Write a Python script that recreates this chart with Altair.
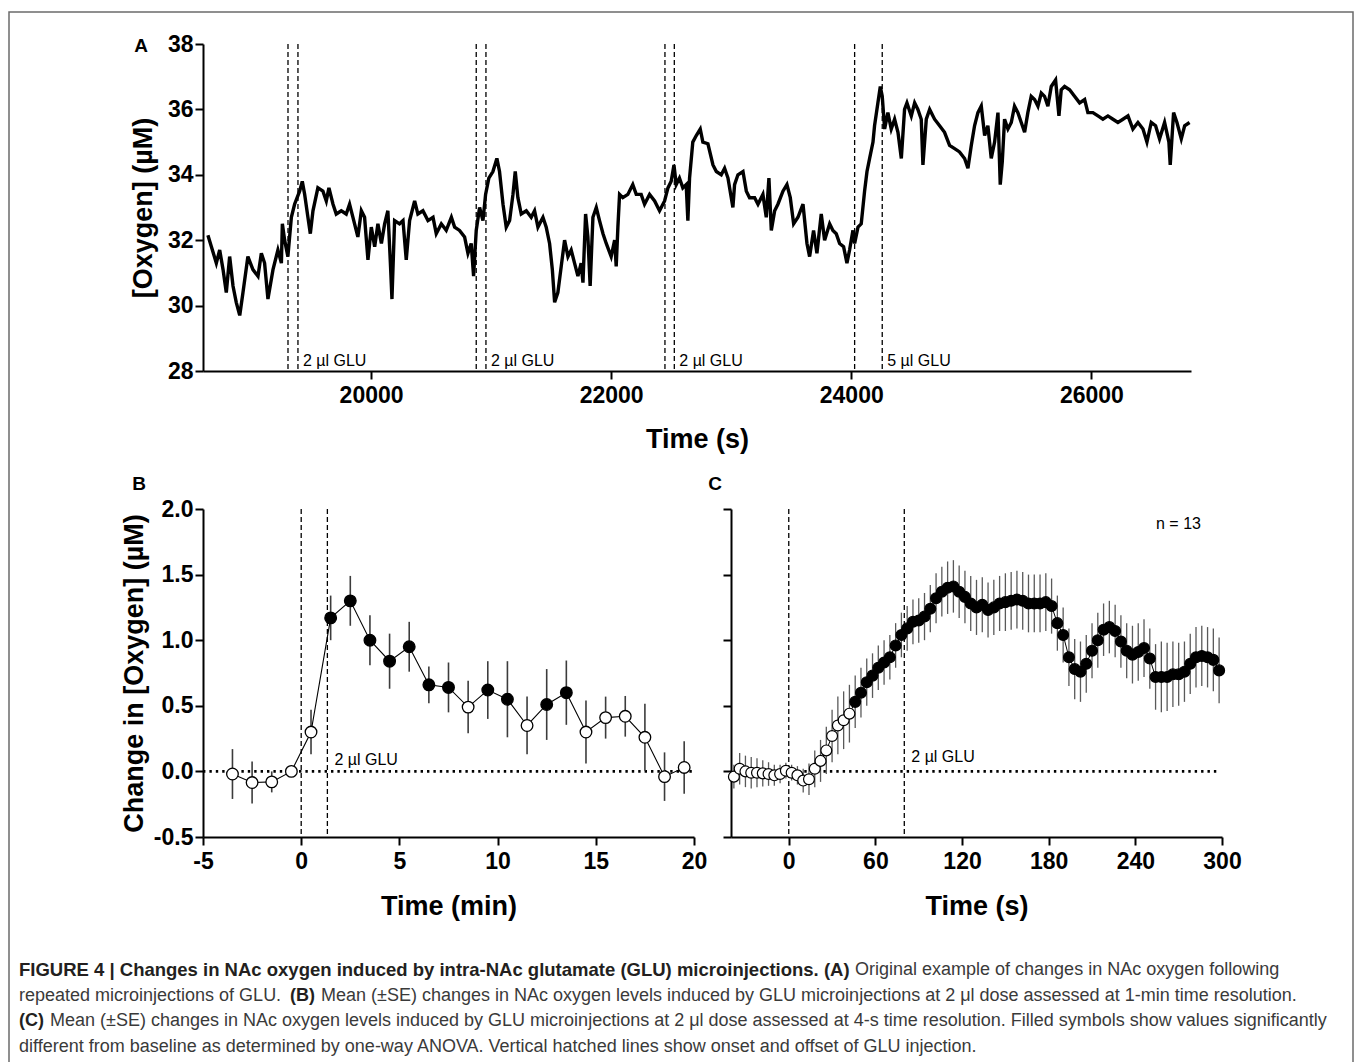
import altair as alt
import pandas as pd

FONT = "Liberation Sans"

# ---------------- Panel A: raw oxygen trace ----------------
a_time = [18641, 18670, 18711, 18739, 18767, 18794, 18822, 18850, 18877, 18906, 18933, 18974, 19016, 19058, 19086,
          19113, 19141, 19183, 19224, 19253, 19261, 19280, 19307, 19336, 19363, 19405, 19427, 19447, 19474, 19494,
          19516, 19557, 19599, 19627, 19649, 19683, 19710, 19752, 19793, 19821, 19849, 19890, 19919, 19946, 19974,
          20002, 20030, 20057, 20086, 20113, 20140, 20161, 20174, 20196, 20237, 20266, 20293, 20321, 20363, 20390,
          20432, 20474, 20516, 20543, 20585, 20626, 20669, 20696, 20737, 20779, 20807, 20834, 20854, 20876, 20904,
          20932, 20954, 20981, 21015, 21048, 21070, 21099, 21126, 21154, 21182, 21201, 21223, 21251, 21293, 21334,
          21362, 21390, 21432, 21459, 21487, 21510, 21529, 21556, 21584, 21612, 21640, 21667, 21695, 21723, 21750,
          21765, 21787, 21806, 21825, 21848, 21876, 21903, 21932, 21959, 22000, 22029, 22042, 22056, 22070, 22097,
          22139, 22180, 22209, 22250, 22278, 22320, 22362, 22403, 22445, 22473, 22500, 22523, 22542, 22569, 22597,
          22625, 22639, 22653, 22680, 22709, 22742, 22764,
          22806, 22848, 22876, 22917, 22945, 22973, 23014, 23028, 23056, 23098, 23126, 23153, 23195, 23223, 23264,
          23292, 23314, 23334, 23362, 23389, 23431, 23464, 23492, 23520, 23556, 23598, 23631, 23653, 23686, 23714,
          23750, 23778, 23820, 23847, 23875, 23903, 23936, 23964, 23986, 24014, 24028, 24056, 24083, 24111, 24131,
          24153, 24181, 24194, 24222, 24242, 24258, 24278, 24305, 24333, 24361, 24389, 24417, 24444, 24464, 24500,
          24528, 24555, 24583, 24597, 24625, 24653, 24694, 24736, 24777, 24819, 24861, 24902, 24944, 24972, 25000,
          25027, 25055, 25083, 25111, 25138, 25166, 25194, 25222, 25241, 25258, 25277, 25305, 25333, 25360, 25388,
          25416, 25444, 25471, 25499, 25527, 25555, 25583, 25610, 25638, 25666, 25702, 25730, 25749, 25777, 25819,
          25860, 25902, 25944, 25971, 26013, 26055, 26096, 26138, 26180, 26221, 26263, 26305, 26346, 26388, 26430,
          26463, 26499, 26535, 26568, 26610, 26646, 26657, 26685, 26713, 26749, 26777, 26818]
a_oxygen = [32.15, 31.8, 31.3, 31.7, 31.1, 30.4, 31.5, 30.6, 30.1, 29.7, 30.4, 31.5, 31.1, 30.9, 31.6,
            31.3, 30.2, 31.1, 31.7, 31.3, 32.5, 32.0, 31.5, 32.7, 33.1, 33.5, 33.8, 33.4, 32.7, 32.2,
            32.9, 33.6, 33.5, 33.2, 33.6, 33.1, 32.8, 32.9, 32.8, 33.1, 32.7, 32.1, 32.9, 32.7, 31.4,
            32.4, 31.8, 32.5, 31.9, 32.5, 32.9, 31.3, 30.2, 32.6, 32.5, 32.6, 31.4, 32.6, 33.2, 32.8,
            32.9, 32.6, 32.7, 32.2, 32.5, 32.3, 32.7, 32.4, 32.3, 32.1, 31.6, 31.9, 30.9, 32.3, 33.0,
            32.6, 33.4, 33.9, 34.1, 34.5, 34.1, 33.1, 32.4, 32.6, 33.4, 34.1, 33.3, 32.8, 32.9, 32.7,
            32.9, 32.4, 32.7, 32.4, 31.9, 31.1, 30.1, 30.4, 31.2, 32.0, 31.5, 31.7, 31.3, 30.9, 31.3,
            30.7, 32.8, 32.1, 30.6, 32.7, 33.0, 32.6, 32.2, 31.9, 31.5, 32.0, 31.2, 32.4, 33.4, 33.3,
            33.4, 33.7, 33.4, 33.4, 33.1, 33.4, 33.2, 32.9, 33.2, 33.6, 33.8, 34.3, 33.7, 33.9, 33.6,
            33.7, 32.6, 33.9, 35.0, 35.2, 35.4, 35.0,
            34.95, 34.3, 34.1, 34.0, 34.2, 33.9, 33.0, 33.7, 34.0, 34.1, 33.5, 33.3, 33.3, 33.1, 33.4,
            32.7, 33.9, 32.3, 32.9, 33.1, 33.5, 33.7, 33.3, 32.5, 32.7, 33.1, 31.9, 31.5, 32.3, 31.6,
            32.8, 32.0, 32.5, 32.3, 32.2, 31.9, 31.8, 31.3, 31.7, 32.3, 31.9, 32.4, 32.5, 33.5, 34.1,
            34.5, 35.0, 35.5, 36.2, 36.7, 36.4, 35.4, 35.9, 35.4, 35.7, 35.3, 34.5, 36.0, 36.2, 35.8,
            36.2, 36.0, 35.7, 34.3, 35.7, 36.0, 35.7, 35.5, 35.3, 34.9, 34.8, 34.7, 34.5, 34.2, 34.9,
            35.5, 35.9, 36.1, 35.2, 35.5, 34.5, 35.0, 35.9, 33.7, 34.4, 35.7, 35.4, 35.6, 36.1, 35.9,
            35.6, 35.3, 35.9, 36.4, 36.3, 36.1, 36.5, 36.4, 36.1, 36.7, 36.9, 35.8, 36.6, 36.7, 36.6,
            36.4, 36.2, 36.3, 35.9, 35.9, 35.8, 35.7, 35.8, 35.7, 35.6, 35.7, 35.8, 35.4, 35.6, 35.4,
            35.0, 35.6, 35.5, 35.1, 35.6, 35.0, 34.3, 35.9, 35.6, 35.1, 35.5, 35.6]
a_injection_lines = [19308, 19391, 20876, 20957, 22448, 22526, 24028, 24258]
a_label_time = [19391, 20957, 22526, 24258]
a_label_text = ["2 µl GLU", "2 µl GLU", "2 µl GLU", "5 µl GLU"]

# ---------------- Panel B: 1-min resolution ----------------
b_time = [-3.5, -2.5, -1.5, -0.5, 0.5, 1.5, 2.5, 3.5, 4.5, 5.5, 6.5, 7.5,
          8.5, 9.5, 10.5, 11.5, 12.5, 13.5, 14.5, 15.5, 16.5, 17.5, 18.5, 19.5]
b_mean = [-0.02, -0.085, -0.08, 0.0, 0.30, 1.17, 1.30, 1.00, 0.84, 0.95, 0.66, 0.64,
          0.49, 0.62, 0.55, 0.35, 0.51, 0.60, 0.30, 0.41, 0.42, 0.26, -0.04, 0.03]
b_se = [0.19, 0.16, 0.08, 0.03, 0.17, 0.17, 0.19, 0.19, 0.21, 0.19, 0.14, 0.19,
        0.20, 0.22, 0.29, 0.22, 0.27, 0.245, 0.24, 0.16, 0.155, 0.255, 0.185, 0.20]
b_filled = [False, False, False, False, False, True, True, True, True, True, True, True,
            False, True, True, False, True, True, False, False, False, False, False, False]
b_lines = [0, 1.333]

# ---------------- Panel C: 4-s resolution ----------------
c_time = [-38, -34, -30, -26, -22, -18, -14, -10, -6, -2,
          2, 6, 10, 14,
          18, 22, 26, 30, 34, 38, 42,
          46, 50, 54, 58, 62, 66, 70, 74, 78,
          82, 86, 90, 94, 98, 102, 106, 110,
          114, 118, 122, 126, 130, 134, 138, 142, 146,
          150, 154, 158, 162, 166, 170, 174, 178, 182,
          186, 190, 194, 198, 202, 206, 210,
          214, 218, 222, 226, 230, 234, 238, 242, 246,
          250, 254, 258, 262, 266, 270, 274, 278, 282, 286, 290, 294, 298]
c_mean = [-0.04, 0.02, 0.0, -0.01, -0.01, -0.015, -0.02, -0.03, -0.02, 0.005,
          -0.01, -0.03, -0.07, -0.06,
          0.02, 0.08, 0.16, 0.27, 0.35, 0.39, 0.44,
          0.53, 0.60, 0.68, 0.73, 0.79, 0.83, 0.87, 0.96, 1.04,
          1.09, 1.14, 1.15, 1.18, 1.24, 1.32, 1.37, 1.40,
          1.41, 1.37, 1.33, 1.28, 1.25, 1.27, 1.23, 1.25, 1.28,
          1.29, 1.30, 1.31, 1.30, 1.28, 1.28, 1.28, 1.29, 1.26,
          1.13, 1.04, 0.87, 0.78, 0.76, 0.82, 0.92,
          1.00, 1.08, 1.10, 1.07, 0.99, 0.92, 0.89, 0.91, 0.94,
          0.86, 0.72, 0.72, 0.72, 0.74, 0.74, 0.76, 0.82, 0.87, 0.88, 0.87, 0.85, 0.77]
c_se = [0.09, 0.12, 0.12, 0.12, 0.11, 0.10, 0.09, 0.08, 0.07, 0.06,
        0.06, 0.07, 0.09, 0.12,
        0.14, 0.16, 0.18, 0.20, 0.22, 0.22, 0.22,
        0.20, 0.19, 0.18, 0.17, 0.17, 0.17, 0.17, 0.17, 0.17,
        0.17, 0.17, 0.17, 0.18, 0.18, 0.19, 0.19, 0.20,
        0.20, 0.20, 0.20, 0.21, 0.21, 0.21, 0.21, 0.21, 0.21,
        0.22, 0.22, 0.22, 0.22, 0.22, 0.22, 0.22, 0.22, 0.21,
        0.21, 0.21, 0.22, 0.23, 0.23, 0.22, 0.21,
        0.21, 0.20, 0.20, 0.20, 0.20, 0.21, 0.22, 0.22, 0.22,
        0.23, 0.25, 0.27, 0.26, 0.25, 0.24, 0.23, 0.23, 0.23, 0.23, 0.23, 0.24, 0.25]
c_first_significant = 46
c_lines = [0, 80]

# ---------------- helpers ----------------
LABEL_SIZE = 23
TITLE_SIZE = 27


def neg_label(fmt):
    return "(datum.value < 0 ? '-' : '') + format(abs(datum.value), '%s')" % fmt


# ---------------- Panel A chart ----------------
A_W, A_H = 988, 327
a_df = pd.DataFrame({"t": a_time, "o2": a_oxygen})
xA = alt.X("t:Q", scale=alt.Scale(domain=[18600, 26830], nice=False, zero=False),
           axis=alt.Axis(values=[20000, 22000, 24000, 26000], format="d", title="Time (s)",
                         titleY=68, titleBaseline="middle", labelPadding=5))
yA = alt.Y("o2:Q", scale=alt.Scale(domain=[28, 38], nice=False, zero=False),
           axis=alt.Axis(values=[28, 30, 32, 34, 36, 38], format="d", title="[Oxygen] (µM)",
                         titleX=-60, titleBaseline="middle"))

a_trace = alt.Chart(a_df).mark_line(color="black", strokeWidth=3.4).encode(x=xA, y=yA)
a_rules = alt.Chart(pd.DataFrame({"t": a_injection_lines})).mark_rule(
    color="black", strokeWidth=1.3, strokeDash=[5, 3]).encode(x="t:Q")
a_txt = alt.Chart(pd.DataFrame({"t": a_label_time, "lab": a_label_text, "o2": [28.15] * 4})).mark_text(
    align="left", baseline="alphabetic", dx=5, font=FONT, fontSize=16, color="black").encode(
    x="t:Q", y="o2:Q", text="lab:N")

# decoration: border, panel letters, caption (positions relative to panel A plot origin)
decor = []
decor.append(alt.Chart(pd.DataFrame({"k": [0]})).mark_rect(
    fillOpacity=0, stroke="#6b6b6b", strokeWidth=1.5).encode(
    x=alt.value(-194), x2=alt.value(1150), y=alt.value(-32), y2=alt.value(1040)))
for letter, px, py in [("A", -62, 2), ("B", -64, 440), ("C", 512, 440)]:
    decor.append(alt.Chart(pd.DataFrame({"k": [0]})).mark_text(
        text=letter, font=FONT, fontSize=19, fontWeight="bold", color="black",
        align="center", baseline="middle").encode(x=alt.value(px), y=alt.value(py)))

caption = [
    ("FIGURE 4 | Changes in NAc oxygen induced by intra-NAc glutamate (GLU) microinjections. (A)", -184, 926, "bold", 18.5),
    ("Original example of changes in NAc oxygen following", 652, 926, "normal", 18),
    ("repeated microinjections of GLU.", -184, 952, "normal", 18),
    ("(B)", 87, 952, "bold", 18),
    ("Mean (±SE) changes in NAc oxygen levels induced by GLU microinjections at 2 μl dose assessed at 1-min time resolution.", 118, 952, "normal", 18),
    ("(C)", -184, 977, "bold", 18),
    ("Mean (±SE) changes in NAc oxygen levels induced by GLU microinjections at 2 μl dose assessed at 4-s time resolution. Filled symbols show values significantly", -153, 977, "normal", 18),
    ("different from baseline as determined by one-way ANOVA. Vertical hatched lines show onset and offset of GLU injection.", -184, 1003, "normal", 18),
]
for txt, px, py, w, fs in caption:
    decor.append(alt.Chart(pd.DataFrame({"k": [0]})).mark_text(
        text=txt, font=FONT, fontSize=fs, fontWeight=w,
        color="#231f20" if w == "bold" else "#3a3a3a",
        align="left", baseline="middle").encode(x=alt.value(px), y=alt.value(py)))

chartA = alt.layer(a_rules, a_trace, a_txt, *decor).properties(width=A_W, height=A_H)

# ---------------- Panel B chart ----------------
P_W, P_H = 491, 328
b_df = pd.DataFrame({"t": b_time, "m": b_mean, "se": b_se,
                     "fill": ["black" if f else "white" for f in b_filled]})
b_df["lo"] = b_df["m"] - b_df["se"]
b_df["hi"] = b_df["m"] + b_df["se"]

y_axis_B = alt.Axis(values=[-0.5, 0, 0.5, 1.0, 1.5, 2.0], labelExpr=neg_label(".1f"),
                    title="Change in [Oxygen]  (µM)", titleX=-69, titleBaseline="middle")
xB = alt.X("t:Q", scale=alt.Scale(domain=[-5, 20], nice=False, zero=False),
           axis=alt.Axis(values=[-5, 0, 5, 10, 15, 20], labelExpr=neg_label("d"), title="Time (min)",
                         titleY=69, titleBaseline="middle", labelPadding=5))
yB = alt.Y("m:Q", scale=alt.Scale(domain=[-0.5, 2.0], nice=False, zero=False), axis=y_axis_B)

b_zero = alt.Chart(pd.DataFrame({"t": [-5, 20], "m": [0, 0]})).mark_line(
    color="black", strokeWidth=2.8, strokeDash=[2.4, 4]).encode(x=xB, y=yB)
b_rules = alt.Chart(pd.DataFrame({"t": b_lines})).mark_rule(
    color="black", strokeWidth=1.3, strokeDash=[5, 3]).encode(x="t:Q")
b_err = alt.Chart(b_df).mark_rule(color="#3c3c3c", strokeWidth=1.6).encode(x="t:Q", y="lo:Q", y2="hi:Q")
b_line = alt.Chart(b_df).mark_line(color="black", strokeWidth=1.1).encode(x="t:Q", y="m:Q")
b_pts = alt.Chart(b_df).mark_circle(size=135, stroke="black", strokeWidth=1.3, opacity=1).encode(
    x="t:Q", y="m:Q", fill=alt.Fill("fill:N", scale=None))
b_txt = alt.Chart(pd.DataFrame({"t": [1.333], "m": [0.05], "lab": ["2 µl GLU"]})).mark_text(
    align="left", baseline="alphabetic", dx=7, font=FONT, fontSize=16, color="black").encode(
    x="t:Q", y="m:Q", text="lab:N")
chartB = alt.layer(b_zero, b_rules, b_err, b_line, b_pts, b_txt).properties(width=P_W, height=P_H)

# ---------------- Panel C chart ----------------
c_df = pd.DataFrame({"t": c_time, "m": c_mean, "se": c_se})
c_df["lo"] = c_df["m"] - c_df["se"]
c_df["hi"] = c_df["m"] + c_df["se"]
c_df["fill"] = ["black" if t >= c_first_significant else "white" for t in c_time]

xC = alt.X("t:Q", scale=alt.Scale(domain=[-40, 300], nice=False, zero=False),
           axis=alt.Axis(values=[0, 60, 120, 180, 240, 300], format="d", title="Time (s)",
                         titleY=69, titleBaseline="middle", labelPadding=5))
yC = alt.Y("m:Q", scale=alt.Scale(domain=[-0.5, 2.0], nice=False, zero=False),
           axis=alt.Axis(values=[-0.5, 0, 0.5, 1.0, 1.5, 2.0], labels=False, title=None))

c_zero = alt.Chart(pd.DataFrame({"t": [-38, 298], "m": [0, 0]})).mark_line(
    color="black", strokeWidth=2.8, strokeDash=[2.4, 4]).encode(x=xC, y=yC)
c_rules = alt.Chart(pd.DataFrame({"t": c_lines})).mark_rule(
    color="black", strokeWidth=1.3, strokeDash=[5, 3]).encode(x="t:Q")
c_err = alt.Chart(c_df).mark_rule(color="#5a5a5a", strokeWidth=1.3).encode(x="t:Q", y="lo:Q", y2="hi:Q")
c_line = alt.Chart(c_df).mark_line(color="black", strokeWidth=1).encode(x="t:Q", y="m:Q")
c_pts = alt.Chart(c_df).mark_circle(size=118, stroke="black", strokeWidth=1.2, opacity=1).encode(
    x="t:Q", y="m:Q", fill=alt.Fill("fill:N", scale=None))
c_txt = alt.Chart(pd.DataFrame({"t": [80], "m": [0.07], "lab": ["2 µl GLU"]})).mark_text(
    align="left", baseline="alphabetic", dx=7, font=FONT, fontSize=16, color="black").encode(
    x="t:Q", y="m:Q", text="lab:N")
c_n = alt.Chart(pd.DataFrame({"k": [0]})).mark_text(
    text="n = 13", align="left", baseline="middle", font=FONT, fontSize=16, color="black").encode(
    x=alt.value(425), y=alt.value(15))
chartC = alt.layer(c_zero, c_rules, c_err, c_line, c_pts, c_txt, c_n).properties(width=P_W, height=P_H)

row2 = alt.hconcat(chartB, chartC, spacing=37, bounds="flush")
chart = alt.vconcat(chartA, row2, spacing=138, bounds="flush").properties(
    padding={"left": 8, "top": 11, "right": 0, "bottom": 0}
).configure_view(stroke=None).configure_axis(
    grid=False, domainColor="black", domainWidth=2, tickColor="black", tickWidth=2, tickSize=8,
    labelFont=FONT, labelFontSize=LABEL_SIZE, labelFontWeight="bold", labelColor="black", labelPadding=2,
    titleFont=FONT, titleFontSize=TITLE_SIZE, titleFontWeight="bold", titleColor="black",
    labelOverlap=False, labelFlush=False
)

chart.save("out.html", embed_options={"renderer": "svg", "actions": False})
